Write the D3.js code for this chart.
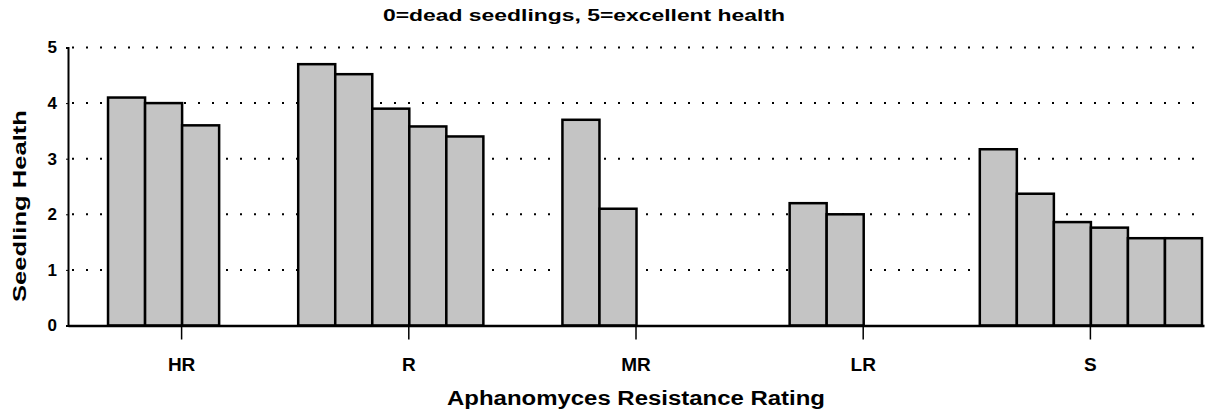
<!DOCTYPE html>
<html>
<head>
<meta charset="utf-8">
<script src="https://cdn.jsdelivr.net/npm/d3@7"></script>
<style>
  body { margin: 0; background: #fff; }
  text { font-family: Arial, "Liberation Sans", sans-serif; font-weight: bold; fill: #000; }
</style>
</head>
<body>
<svg id="chart" width="1213" height="414"></svg>
<script>
// categories on the x axis
const categories = ['HR', 'R', 'MR', 'LR', 'S'];

// one array per bar slot inside a group (null = no bar)
const slot1 = [null, 4.7, null, null, 3.17];
const slot2 = [4.1, 4.52, 3.7, 2.2, 2.37];
const slot3 = [4.0, 3.9, 2.1, 2.0, 1.86];
const slot4 = [3.6, 3.58, null, null, 1.76];
const slot5 = [null, 3.4, null, null, 1.57];
const slot6 = [null, null, null, null, 1.57];
const slots = [slot1, slot2, slot3, slot4, slot5, slot6];

const yTicks = [0, 1, 2, 3, 4, 5];

const title = '0=dead seedlings, 5=excellent health';
const xTitle = 'Aphanomyces Resistance Rating';
const yTitle = 'Seedling Health';

const svg = d3.select('#chart');
const margin = { left: 68, right: 9, top: 47.5, bottom: 88.5 };
const W = 1213, H = 414;

const x0 = d3.scaleBand()
  .domain(categories)
  .range([margin.left, W - margin.right])
  .padding(0);

const x1 = d3.scaleBand()
  .domain(d3.range(slots.length))
  .range([3, x0.bandwidth() - 2])
  .padding(0);

const y = d3.scaleLinear()
  .domain([0, 5])
  .range([H - margin.bottom, margin.top]);

// dotted gridlines
svg.append('g')
  .selectAll('line')
  .data(yTicks.filter(d => d > 0))
  .enter().append('line')
  .attr('x1', margin.left + 4)
  .attr('x2', W - margin.right - 4)
  .attr('y1', d => y(d))
  .attr('y2', d => y(d))
  .attr('stroke', '#000')
  .attr('stroke-width', 2)
  .attr('stroke-dasharray', '2,12');

// bars
const bars = [];
slots.forEach((s, i) => {
  s.forEach((v, j) => {
    if (v != null) bars.push({ cat: categories[j], slot: i, value: v });
  });
});

svg.append('g')
  .selectAll('rect')
  .data(bars)
  .enter().append('rect')
  .attr('x', d => x0(d.cat) + x1(d.slot))
  .attr('y', d => y(d.value))
  .attr('width', x1.bandwidth())
  .attr('height', d => y(0) - y(d.value))
  .attr('fill', '#c4c4c4')
  .attr('stroke', '#000')
  .attr('stroke-width', 2.5);

// y axis
const yAxis = svg.append('g')
  .attr('transform', `translate(${margin.left},0)`)
  .call(d3.axisLeft(y).tickValues(yTicks).tickFormat(d3.format('d')).tickSize(2).tickPadding(9));
yAxis.select('.domain').attr('stroke-width', 2);
yAxis.selectAll('text')
  .style('font-size', '17px')
  .style('font-weight', 'bold')
  .attr('font-family', 'Arial, "Liberation Sans", sans-serif');

// x axis, ticks at group centres
const xAxis = svg.append('g')
  .attr('transform', `translate(0,${y(0)})`)
  .call(d3.axisBottom(x0).tickSize(14).tickPadding(16).tickSizeOuter(0));
xAxis.select('.domain').attr('stroke-width', 2.5);
xAxis.selectAll('.tick line').attr('stroke-width', 1.5);
xAxis.selectAll('text')
  .attr('dy', 0)
  .attr('y', 45)
  .style('font-size', '19px')
  .style('font-weight', 'bold')
  .attr('font-family', 'Arial, "Liberation Sans", sans-serif');

svg.append('text')
  .attr('x', 584)
  .attr('y', 21)
  .attr('text-anchor', 'middle')
  .attr('textLength', 402)
  .attr('lengthAdjust', 'spacingAndGlyphs')
  .style('font-size', '17px')
  .text(title);

svg.append('text')
  .attr('x', 636)
  .attr('y', 405)
  .attr('text-anchor', 'middle')
  .attr('textLength', 378)
  .attr('lengthAdjust', 'spacingAndGlyphs')
  .style('font-size', '20px')
  .text(xTitle);

svg.append('text')
  .attr('transform', 'translate(26,206) rotate(-90)')
  .attr('text-anchor', 'middle')
  .attr('textLength', 192)
  .attr('lengthAdjust', 'spacingAndGlyphs')
  .style('font-size', '18px')
  .text(yTitle);
</script>
</body>
</html>
